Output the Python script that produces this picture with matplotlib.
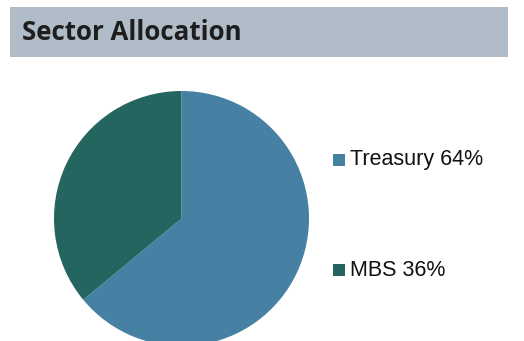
import matplotlib
matplotlib.use("Agg")
import matplotlib.pyplot as plt
from matplotlib.patches import Rectangle

SECTORS = ["Treasury", "MBS"]
WEIGHTS = [64, 36]
COLORS = ["#4680a2", "#256560"]

W, H = 524, 341


def fx(px):
    return px / W


def fy(py):
    # pixel row measured from the top -> figure fraction
    return 1 - py / H


fig = plt.figure(figsize=(W / 100, H / 100), dpi=100)
fig.patch.set_facecolor("white")

# header band
fig.patches.append(
    Rectangle((fx(10), fy(57)), fx(498), 50 / H, transform=fig.transFigure,
              facecolor="#b0bcc8", edgecolor="none", zorder=0)
)
fig.text(fx(22), fy(33), "Sector Allocation", fontsize=18.6, fontweight="bold",
         family="Open Sans", color="#1e1e1e", va="center", ha="left")

# pie
size = 255
ax = fig.add_axes([fx(54), fy(91 + size), fx(size), size / H])
ax.pie(WEIGHTS, colors=COLORS, startangle=90, counterclock=False,
       radius=1.0, wedgeprops=dict(linewidth=0))
ax.set_xlim(-1, 1)
ax.set_ylim(-1, 1)
ax.set_aspect("equal")
ax.axis("off")

# legend
rows = [160, 270]
for name, pct, color, y in zip(SECTORS, WEIGHTS, COLORS, rows):
    fig.patches.append(
        Rectangle((fx(333), fy(y + 6)), fx(12), 12 / H, transform=fig.transFigure,
                  facecolor=color, edgecolor="none")
    )
    fig.text(fx(350), fy(y), f"{name} {pct}%", fontsize=15.5,
             family="Liberation Sans", color="#111111", va="center", ha="left")

fig.savefig("out.png", dpi=100, facecolor="white")
